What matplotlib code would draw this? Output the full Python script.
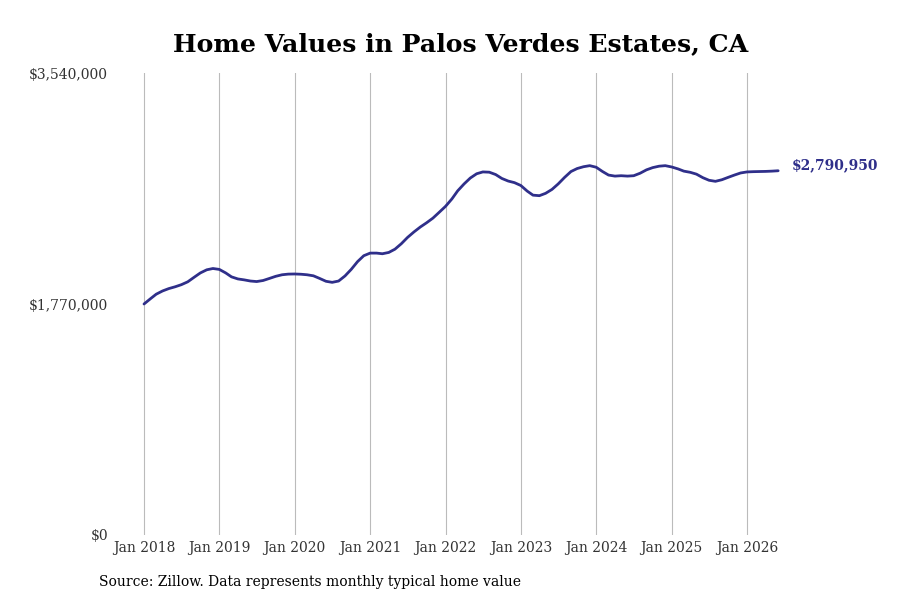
import matplotlib
matplotlib.use('Agg')
import matplotlib.pyplot as plt
import matplotlib.dates as mdates
import matplotlib.ticker as mticker
import pandas as pd

plt.rcParams['font.family'] = ['DejaVu Serif']

# monthly typical home value, Jan 2018 .. Jun 2026 (thousands of $)
values_k = [
    1770, 1810, 1845, 1870, 1888, 1902, 1918, 1940, 1975, 2008, 2032, 2042,
    2035, 2008, 1978, 1962, 1955, 1946, 1942, 1950, 1966, 1982, 1994, 1999,
    2000, 1998, 1994, 1986, 1966, 1944, 1936, 1946, 1985, 2035, 2095, 2140,
    2160, 2160, 2155, 2165, 2190, 2232, 2280, 2322, 2360, 2392, 2428, 2472,
    2518, 2575, 2637, 2690, 2735, 2768, 2782, 2780, 2762, 2732, 2712, 2700,
    2678, 2635, 2604, 2600, 2618, 2648, 2690, 2740, 2785, 2808, 2822, 2830,
    2818, 2785, 2758, 2750, 2753, 2750, 2753, 2772, 2798, 2815, 2826, 2830,
    2820, 2805, 2788, 2779, 2765, 2738, 2718, 2710, 2722, 2740, 2758, 2774,
    2782, 2784, 2785, 2786, 2788, 2790.95,
]
dates = pd.date_range('2018-01-01', periods=len(values_k), freq='MS')
values = [v * 1000 for v in values_k]
last_label = '$2,790,950'
y_ticks = [0, 1770000, 3540000]
x_ticks = pd.date_range('2018-01-01', '2026-01-01', freq='YS')

line_color = '#2f2f8a'

fig = plt.figure(figsize=(9, 6), dpi=100)
ax = fig.add_axes([115 / 900, 1 - 535 / 600, (790 - 115) / 900, (535 - 73) / 600])

ax.plot(dates, values, color=line_color, linewidth=2.0, solid_capstyle='round')

# place Jan 2018 at pixel 144
px_per_day = (747 - 144) / (x_ticks[-1] - x_ticks[0]).days
x0 = x_ticks[0] - pd.Timedelta(days=(144 - 115) / px_per_day)
x1 = x_ticks[0] + pd.Timedelta(days=(790 - 144) / px_per_day)
ax.set_xlim(x0, x1)
ax.set_ylim(0, 3540000)

ax.set_xticks(x_ticks)
ax.xaxis.set_major_formatter(mdates.DateFormatter('Jan %Y'))
ax.set_yticks(y_ticks)
ax.yaxis.set_major_formatter(mticker.FuncFormatter(lambda v, p: '${:,.0f}'.format(v)))

ax.grid(axis='x', color='#bbbbbb', linewidth=0.8)
ax.grid(axis='y', visible=False)
for s in ax.spines.values():
    s.set_visible(False)
ax.tick_params(axis='both', length=0, labelsize=10, colors='#333333')
ax.tick_params(axis='x', pad=4)
ax.tick_params(axis='y', pad=5)

ax.annotate(last_label, xy=(dates[-1], values[-1]), xytext=(10, 4),
            textcoords='offset points', ha='left', va='center',
            fontsize=10, fontweight='bold', color=line_color,
            annotation_clip=False)

fig.text(461 / 900, 1 - 44 / 600, 'Home Values in Palos Verdes Estates, CA',
         ha='center', va='center', fontsize=18.1, fontweight='bold')
fig.text(99 / 900, 1 - 582 / 600, 'Source: Zillow. Data represents monthly typical home value',
         ha='left', va='center', fontsize=10)

fig.savefig('out.png', dpi=100)
plt.close()
